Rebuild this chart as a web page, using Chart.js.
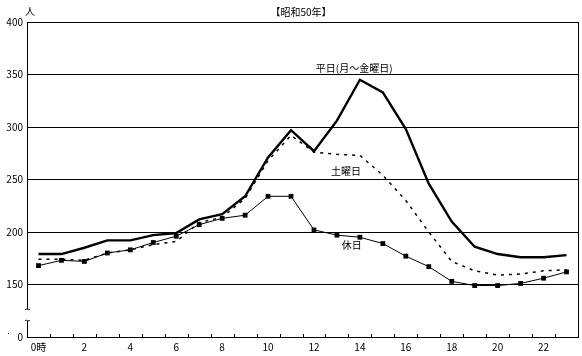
<!DOCTYPE html>
<html>
<head>
<meta charset="utf-8">
<script src="https://cdn.jsdelivr.net/npm/chart.js@4/dist/chart.umd.min.js"></script>
<style>
html,body{margin:0;padding:0;background:#fff;}
#wrap{width:582px;height:356px;position:relative;}
</style>
</head>
<body>
<div id="wrap"><canvas id="c" width="582" height="356"></canvas></div>
<script>
const hours = ['0','1','2','3','4','5','6','7','8','9','10','11','12','13','14','15','16','17','18','19','20','21','22','23'];
const xTickLabels = ['0時','','2','','4','','6','','8','','10','','12','','14','','16','','18','','20','','22',''];
const weekday = [179, 179, 185, 192, 192, 197, 199, 212, 217, 234, 271, 297, 277, 306, 345, 333, 298, 246, 210, 186, 179, 176, 176, 178];
const saturday = [174, 174, 173, 180, 183, 188, 191, 209, 214, 232, 268, 292, 276, 274, 273, 254, 230, 200, 172, 163, 159, 160, 163, 164];
const holiday = [168, 173, 172, 180, 183, 190, 196, 207, 213, 216, 234, 234, 202, 197, 195, 189, 177, 167, 153, 149, 149, 151, 156, 162];
const yTickValues = [100, 150, 200, 250, 300, 350, 400];
const yTickLabels = ['0', '150', '200', '250', '300', '350', '400'];
const seriesNames = ['平日(月～金曜日)', '土曜日', '休日'];
const titleText = '【昭和50年】';
const unitText = '人';

const FONT = "'Noto Sans CJK JP', 'Noto Sans', sans-serif";

const decor = {
  id: 'decor',
  afterDraw(chart) {
    const ctx = chart.ctx;
    const ca = chart.chartArea;
    const xs = chart.scales.x, ys = chart.scales.y;
    ctx.save();
    ctx.strokeStyle = '#000';
    ctx.lineWidth = 1;
    ctx.beginPath();
    ctx.moveTo(Math.round(ca.right) + 0.5, ca.top);
    ctx.lineTo(Math.round(ca.right) + 0.5, ca.bottom);
    ctx.stroke();
    const step = xs.getPixelForValue(1) - xs.getPixelForValue(0);
    for (let i = 1; i < hours.length; i++) {
      const px = Math.round(xs.getPixelForValue(i) - step / 2) + 0.5;
      ctx.beginPath();
      ctx.moveTo(px, ca.bottom);
      ctx.lineTo(px, ca.bottom - 3);
      ctx.stroke();
    }
    const lx = Math.round(ca.left) + 0.5;
    ctx.fillStyle = '#fff';
    ctx.fillRect(lx - 4, 309, 8, 12);
    ctx.beginPath();
    ctx.moveTo(lx - 2.5, 310);
    ctx.bezierCurveTo(lx - 1, 307.5, lx + 1, 311.5, lx + 2.5, 309);
    ctx.moveTo(lx - 2.5, 321);
    ctx.bezierCurveTo(lx - 1, 318.5, lx + 1, 322.5, lx + 2.5, 320);
    ctx.stroke();
    ctx.fillStyle = '#000';
    ctx.fillRect(8, 333, 1, 1);
    ctx.font = '10px ' + FONT;
    ctx.textBaseline = 'middle';
    ctx.textAlign = 'center';
    ctx.fillText(titleText, 301, 12);
    ctx.fillText(unitText, 30, 11);
    ctx.fillText(seriesNames[0], xs.getPixelForValue(13.75), ys.getPixelForValue(356));
    ctx.fillText(seriesNames[1], xs.getPixelForValue(13.4), ys.getPixelForValue(258));
    ctx.fillText(seriesNames[2], xs.getPixelForValue(13.65), ys.getPixelForValue(187));
    ctx.restore();
  }
};

new Chart(document.getElementById('c'), {
  type: 'line',
  data: {
    labels: hours,
    datasets: [
      { label: seriesNames[0], data: weekday, borderColor: '#000', borderWidth: 2.4, pointRadius: 0, tension: 0, fill: false },
      { label: seriesNames[1], data: saturday, borderColor: '#000', borderWidth: 1.5, borderDash: [3, 5], pointRadius: 0, tension: 0, fill: false },
      { label: seriesNames[2], data: holiday, borderColor: '#000', borderWidth: 1, pointStyle: 'rect', pointRadius: 3.4, pointBackgroundColor: '#000', pointBorderColor: '#000', pointBorderWidth: 0, tension: 0, fill: false }
    ]
  },
  options: {
    responsive: false,
    animation: false,
    devicePixelRatio: 1,
    layout: { padding: { top: 22, right: 4, left: 0, bottom: 0 } },
    plugins: { legend: { display: false }, tooltip: { enabled: false }, title: { display: false } },
    scales: {
      x: {
        type: 'category',
        offset: true,
        grid: { display: false, offset: true, drawTicks: false },
        border: { display: true, color: '#000', width: 1 },
        ticks: {
          autoSkip: false, maxRotation: 0, padding: 4, color: '#000',
          font: { family: FONT, size: 10 },
          callback: (v, i) => xTickLabels[i]
        },
        afterFit: (s) => { s.height = 19; }
      },
      y: {
        min: 100, max: 400,
        afterBuildTicks: (s) => { s.ticks = yTickValues.map(v => ({ value: v })); },
        grid: { color: (c) => c.tick && c.tick.value === 100 ? 'rgba(0,0,0,0)' : '#000', lineWidth: 1, drawTicks: false },
        border: { display: true, color: '#000', width: 1 },
        ticks: {
          color: '#000', padding: 4,
          font: { family: FONT, size: 10 },
          callback: (v) => { const k = yTickValues.indexOf(v); return k >= 0 ? yTickLabels[k] : ''; }
        },
        afterFit: (s) => { s.width = 27; }
      }
    }
  },
  plugins: [decor]
});
</script>
</body>
</html>
